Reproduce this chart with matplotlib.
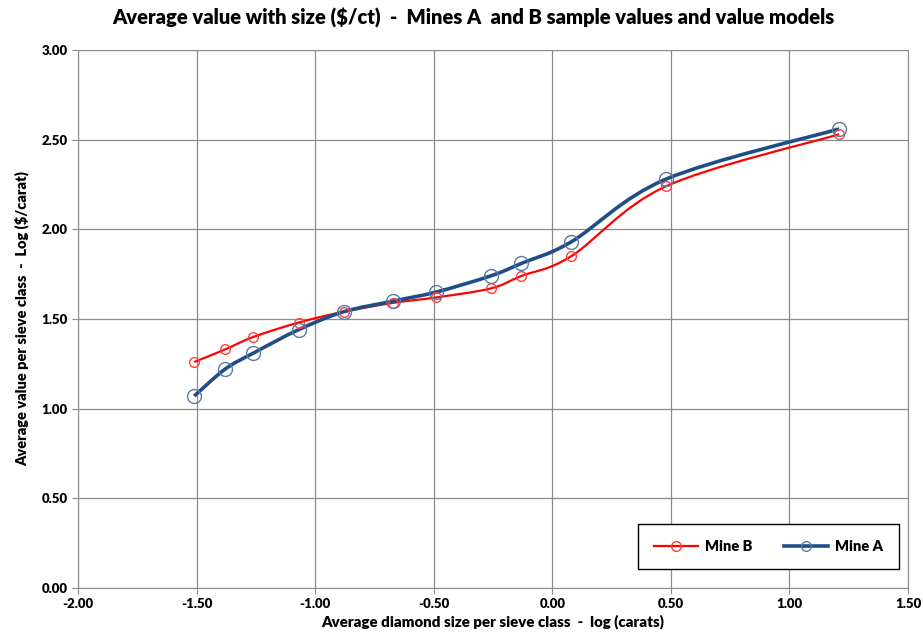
import matplotlib.pyplot as plt
from matplotlib.path import Path
from matplotlib.patches import PathPatch
from matplotlib.lines import Line2D

# log sieve size (carats) and log value ($/carat)
size_log = [-1.51, -1.38, -1.26, -1.07, -0.88, -0.67, -0.49, -0.26, -0.13, 0.08, 0.48, 1.21]
mine_a = [1.07, 1.22, 1.31, 1.44, 1.54, 1.60, 1.65, 1.74, 1.81, 1.93, 2.28, 2.56]
mine_b = [1.26, 1.33, 1.40, 1.48, 1.54, 1.59, 1.62, 1.67, 1.74, 1.85, 2.24, 2.53]

x_ticks = [-2.0, -1.5, -1.0, -0.5, 0.0, 0.5, 1.0, 1.5]
y_ticks = [0.0, 0.5, 1.0, 1.5, 2.0, 2.5, 3.0]

plt.rcParams['font.family'] = ['Lato', 'DejaVu Sans']
W = 'heavy'


def smooth_path(xs, ys):
    # excel-style smoothed line: cubic bezier through the points
    verts = [(xs[0], ys[0])]
    codes = [Path.MOVETO]
    n = len(xs)
    for i in range(n - 1):
        x0, y0 = (xs[i - 1], ys[i - 1]) if i > 0 else (xs[i], ys[i])
        x3, y3 = (xs[i + 2], ys[i + 2]) if i + 2 < n else (xs[i + 1], ys[i + 1])
        c1 = (xs[i] + (xs[i + 1] - x0) / 6, ys[i] + (ys[i + 1] - y0) / 6)
        c2 = (xs[i + 1] - (x3 - xs[i]) / 6, ys[i + 1] - (y3 - ys[i]) / 6)
        verts += [c1, c2, (xs[i + 1], ys[i + 1])]
        codes += [Path.CURVE4] * 3
    return Path(verts, codes)


fig = plt.figure(figsize=(9.23, 6.44), dpi=100)
ax = fig.add_axes([0.0845, 0.087, 0.8992, 0.8354])

ax.add_patch(PathPatch(smooth_path(size_log, mine_b), fill=False, edgecolor='#ff0000', lw=1.6, zorder=3))
ax.add_patch(PathPatch(smooth_path(size_log, mine_a), fill=False, edgecolor='#1f4e87', lw=2.6, zorder=4))
ax.plot(size_log, mine_b, ls='none', marker='o', ms=7, mfc='none', mec='#ff4040', mew=1.0, zorder=5)
ax.plot(size_log, mine_a, ls='none', marker='o', ms=10, mfc='none', mec='#5a7aa6', mew=1.0, zorder=5)

ax.set_xlim(-2.0, 1.5)
ax.set_ylim(0, 3.0)
ax.set_xticks(x_ticks)
ax.set_yticks(y_ticks)
ax.set_xticklabels(['%.2f' % v for v in x_ticks], fontweight=W, fontsize=9.5)
ax.set_yticklabels(['%.2f' % v for v in y_ticks], fontweight=W, fontsize=9.5)
ax.grid(True, color='#8c8c8c', lw=0.9)
ax.set_axisbelow(True)
for s in ax.spines.values():
    s.set_color('#8c8c8c')
ax.tick_params(colors='#8c8c8c', labelcolor='black', length=4, direction='out')

fig.text(0.513, 0.972, 'Average value with size ($/ct)  -  Mines A  and B sample values and value models',
         ha='center', va='center', fontweight=W, fontsize=14.5)
ax.set_xlabel('Average diamond size per sieve class  -  log (carats)', fontweight=W, fontsize=10.8, labelpad=3)
ax.set_ylabel('Average value per sieve class  -  Log ($/carat)', fontweight=W, fontsize=10.5, labelpad=9)

handles = [
    Line2D([], [], color='#ff0000', lw=1.6, marker='o', ms=7, mfc='none', mec='#ff4040'),
    Line2D([], [], color='#1f4e87', lw=2.6, marker='o', ms=7, mfc='none', mec='#5a7aa6'),
]
leg = ax.legend(handles, ['Mine B', 'Mine A'], loc='lower right', ncol=2, fancybox=False,
                framealpha=1, edgecolor='black', prop={'weight': W, 'size': 10.5},
                borderpad=1.1, columnspacing=2.2, handlelength=3.0, handletextpad=0.5,
                bbox_to_anchor=(0.9985, 0.022))
leg.get_frame().set_linewidth(1.0)

fig.savefig('out.png', dpi=100)
